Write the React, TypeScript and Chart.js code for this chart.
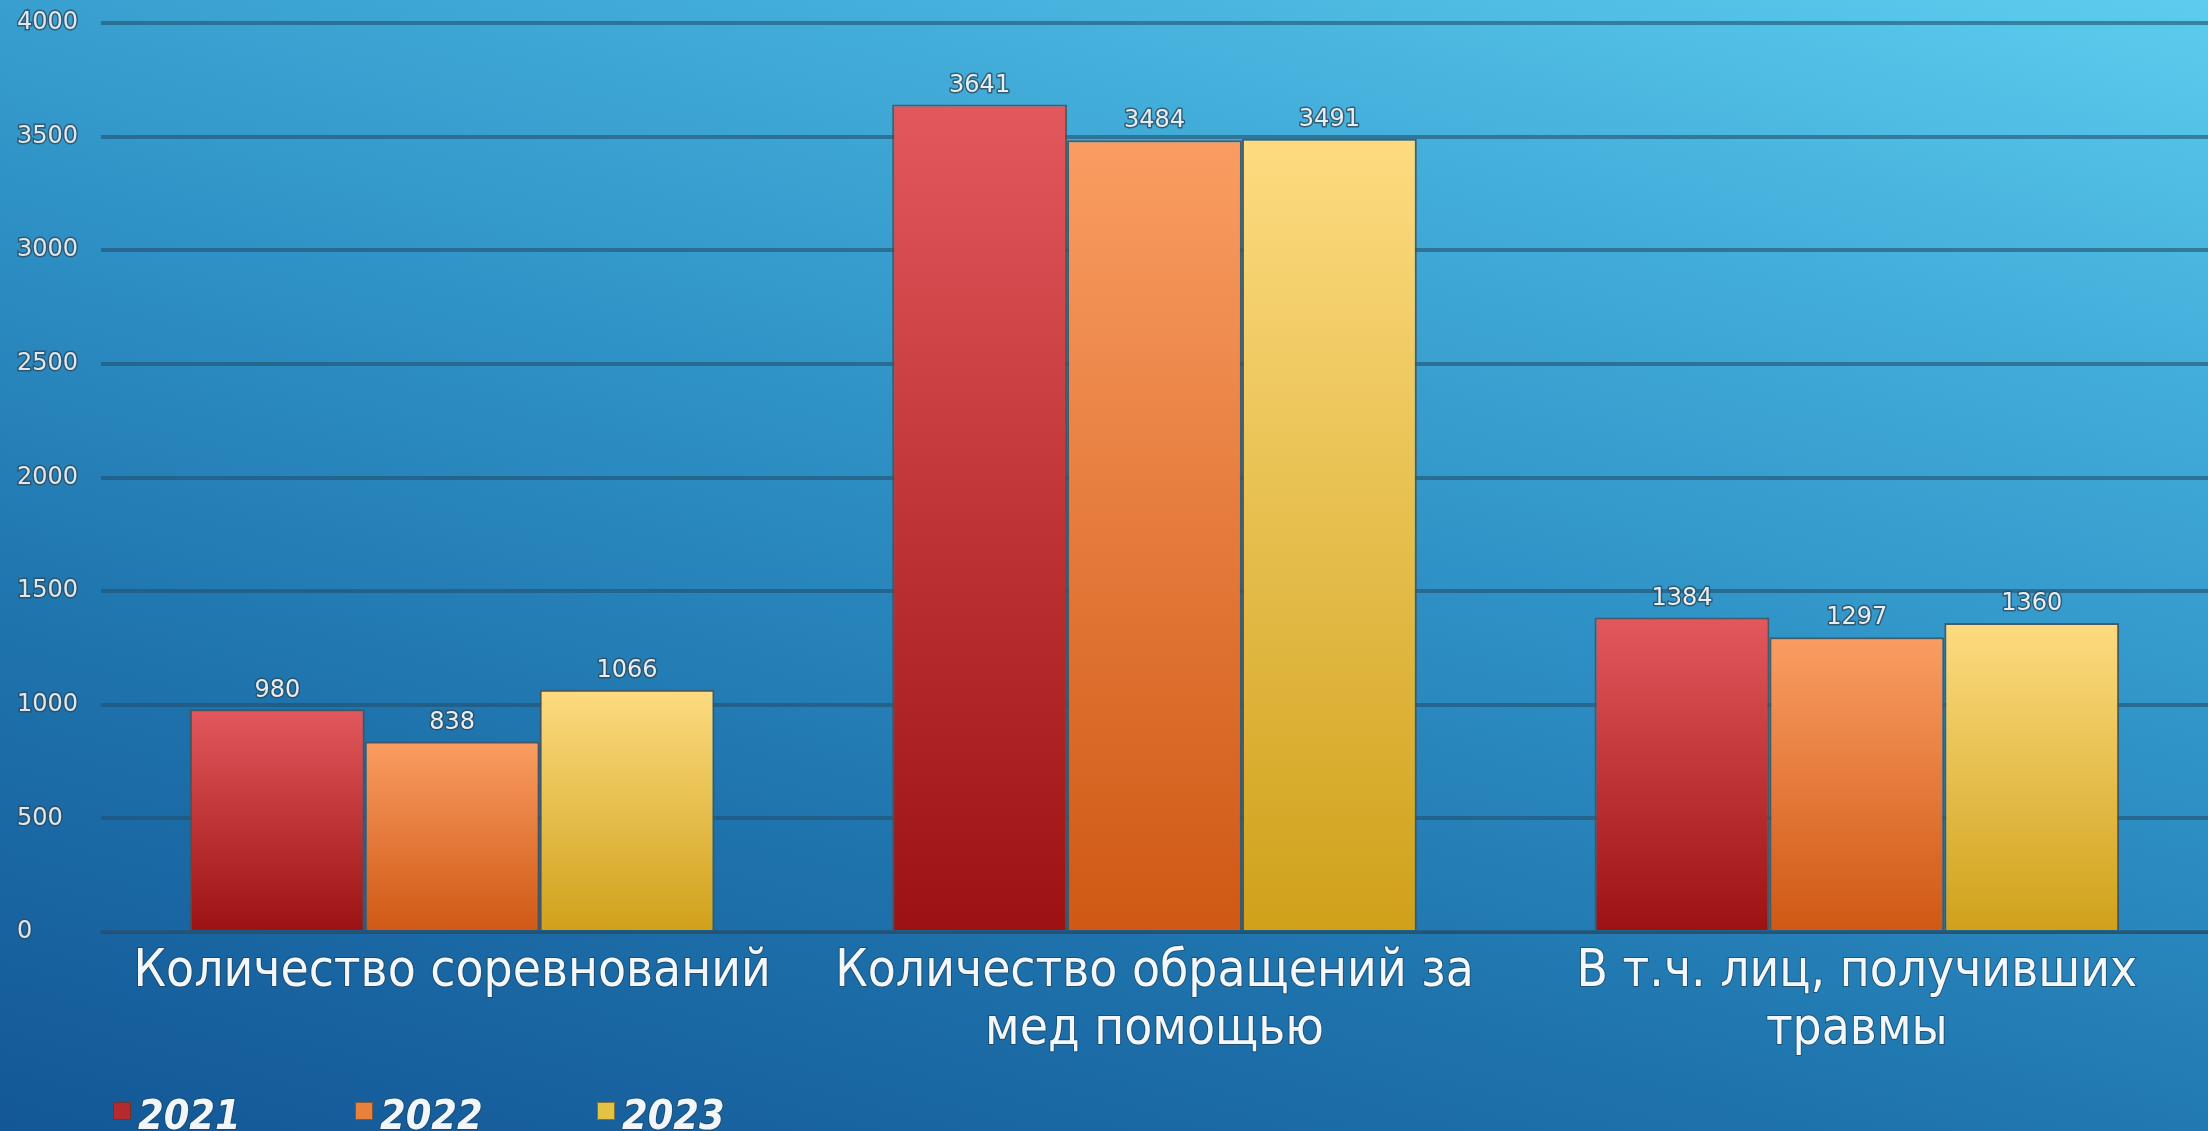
import React, { useEffect, useRef } from "react";
import { Chart, registerables } from "chart.js";

Chart.register(...registerables);

// ---- data ----
const categories: (string | string[])[] = [
  "Количество соревнований",
  ["Количество обращений за", "мед помощью"],
  ["В т.ч. лиц, получивших", "травмы"],
];
const seriesNames = ["2021", "2022", "2023"];
const values2021 = [980, 3641, 1384];
const values2022 = [838, 3484, 1297];
const values2023 = [1066, 3491, 1360];
const yMin = 0;
const yMax = 4000;
const yStep = 500;

// ---- styles ----
const barTop = ["#e2585c", "#fa9d62", "#fddb80"];
const barBottom = ["#9c1212", "#cf5814", "#cfa11a"];
const legendColors = ["#b52a2c", "#e8813c", "#e3c244"];
const NARROW = "'Liberation Sans Narrow', 'DejaVu Sans Condensed', 'Liberation Sans', sans-serif";
const TICKFONT = "'DejaVu Sans', sans-serif";

const makeFill = (i: number) => (ctx: any) => {
  if (ctx.type !== "data") return legendColors[i];
  const chart = ctx.chart;
  const y = chart.scales && chart.scales.y;
  if (!y) return barBottom[i];
  const yTop = y.getPixelForValue(ctx.raw);
  const yBot = y.getPixelForValue(0);
  if (!isFinite(yTop) || !isFinite(yBot) || yTop === yBot) return barBottom[i];
  const g = chart.ctx.createLinearGradient(0, yTop, 0, yBot);
  g.addColorStop(0, barTop[i]);
  g.addColorStop(1, barBottom[i]);
  return g;
};

const valueLabels = {
  id: "valueLabels",
  afterDatasetsDraw(chart: any) {
    const ctx = chart.ctx;
    ctx.save();
    ctx.font = `24px ${TICKFONT}`;
    ctx.textAlign = "center";
    ctx.textBaseline = "middle";
    ctx.lineJoin = "round";
    ctx.lineWidth = 3;
    ctx.strokeStyle = "rgba(45,75,95,0.8)";
    ctx.fillStyle = "#e6eef2";
    chart.data.datasets.forEach((ds: any, i: number) => {
      const meta = chart.getDatasetMeta(i);
      meta.data.forEach((el: any, j: number) => {
        const t = String(ds.data[j]);
        ctx.strokeText(t, el.x, el.y - 19);
        ctx.fillText(t, el.x, el.y - 19);
      });
    });
    ctx.restore();
  },
};

// legend row drawn under the axis labels, left-aligned
const legendRow = {
  id: "legendRow",
  afterDraw(chart: any) {
    const ctx = chart.ctx;
    const area = chart.chartArea;
    const startX = area.left + 12;
    const step = 242;
    const box = 18;
    const boxTop = chart.height - 29;
    const baseY = chart.height - 2;
    ctx.save();
    ctx.font = `italic bold 41px ${NARROW}`;
    ctx.textAlign = "left";
    ctx.textBaseline = "alphabetic";
    ctx.lineJoin = "round";
    chart.data.datasets.forEach((ds: any, i: number) => {
      const x = startX + i * step;
      ctx.fillStyle = legendColors[i];
      ctx.fillRect(x, boxTop, box, box);
      ctx.lineWidth = 1;
      ctx.strokeStyle = "rgba(60,60,60,0.6)";
      ctx.strokeRect(x + 0.5, boxTop + 0.5, box - 1, box - 1);
      ctx.lineWidth = 2;
      ctx.strokeStyle = "rgba(30,60,80,0.55)";
      ctx.strokeText(ds.label, x + box + 7, baseY);
      ctx.fillStyle = "#f2f6f8";
      ctx.fillText(ds.label, x + box + 7, baseY);
    });
    ctx.restore();
  },
};

export default function App() {
  const ref = useRef<HTMLCanvasElement | null>(null);

  useEffect(() => {
    if (!ref.current) return;
    const series = [values2021, values2022, values2023];
    const chart = new Chart(ref.current, {
      type: "bar",
      data: {
        labels: categories as any,
        datasets: series.map((vals, i) => ({
          label: seriesNames[i],
          data: vals,
          backgroundColor: makeFill(i) as any,
          borderColor: "rgba(70,82,88,0.85)",
          borderWidth: 2,
          barPercentage: 1,
          categoryPercentage: 0.747,
        })),
      },
      options: {
        responsive: false,
        devicePixelRatio: 1,
        animation: false,
        layout: { padding: { left: 17, top: 23, right: 0, bottom: 69 } },
        plugins: {
          tooltip: { enabled: false },
          legend: { display: false },
        },
        scales: {
          x: {
            grid: { display: false, drawTicks: false },
            border: { display: true, color: "rgba(40,80,105,0.7)", width: 3 },
            ticks: {
              maxRotation: 0,
              minRotation: 0,
              autoSkip: false,
              padding: 12,
              color: "#f4f7f9",
              textStrokeColor: "rgba(30,60,80,0.6)",
              textStrokeWidth: 2,
              font: { family: NARROW, size: 51, lineHeight: 58 / 51 },
            },
            afterFit: (s: any) => {
              s.height = 130;
            },
          },
          y: {
            min: yMin,
            max: yMax,
            grid: { color: "rgba(35,80,110,0.6)", lineWidth: 4, drawTicks: false },
            border: { display: false },
            ticks: {
              stepSize: yStep,
              crossAlign: "far",
              color: "#dde7ec",
              textStrokeColor: "rgba(45,75,95,0.8)",
              textStrokeWidth: 3,
              font: { family: TICKFONT, size: 24 },
              callback: (v: any) => String(v),
            },
            afterFit: (s: any) => {
              s.width = 84;
            },
          },
        },
      },
      plugins: [valueLabels, legendRow],
    });
    return () => chart.destroy();
  }, []);

  return (
    <div
      style={{
        position: "fixed",
        left: 0,
        top: 0,
        width: 2208,
        height: 1131,
        overflow: "hidden",
        background:
          "linear-gradient(15deg, #135796 0%, #1f74ad 30%, #2f92c6 55%, #45b0dc 80%, #5ccdee 100%)",
      }}
    >
      <canvas ref={ref} width={2208} height={1131} style={{ display: "block", width: 2208, height: 1131 }} />
    </div>
  );
}
